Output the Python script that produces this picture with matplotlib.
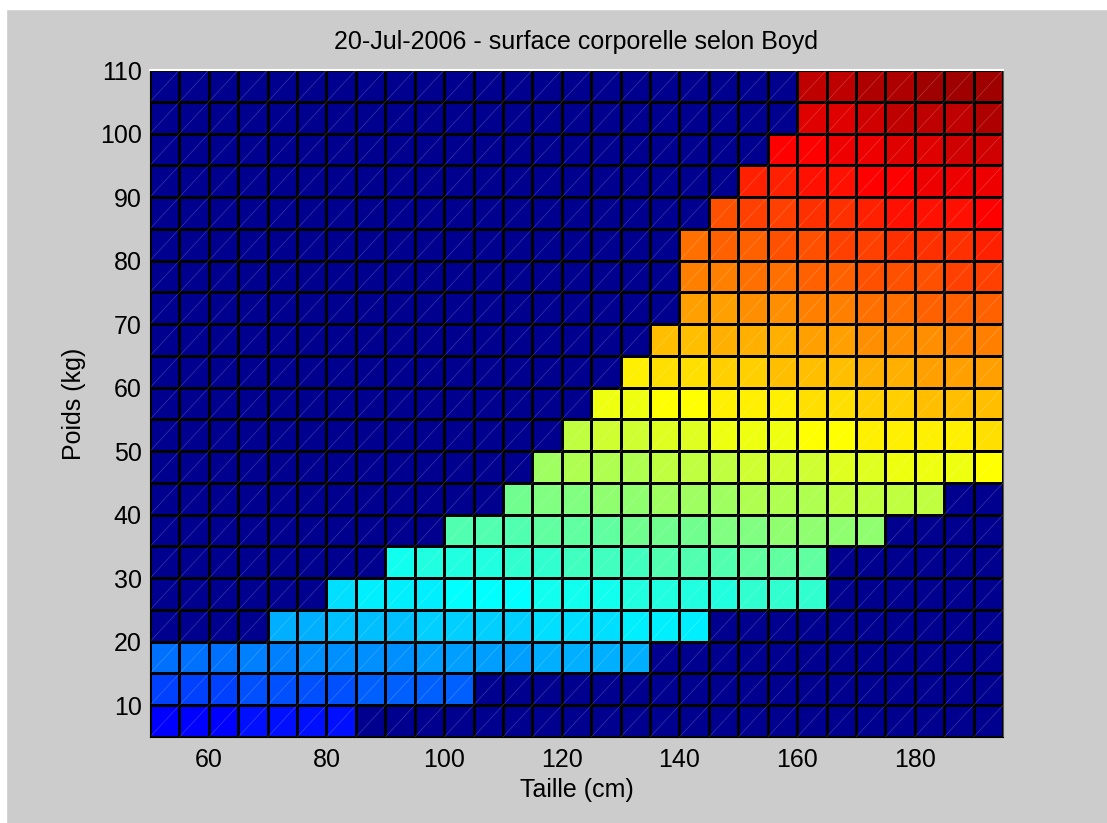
import numpy as np
import matplotlib
matplotlib.use("Agg")
import matplotlib.pyplot as plt
from matplotlib.colors import ListedColormap
from matplotlib.collections import LineCollection
from matplotlib.patches import Rectangle

# --- data ---
# cell edges (cm / kg)
taille = [50, 55, 60, 65, 70, 75, 80, 85, 90, 95, 100, 105, 110, 115, 120, 125, 130,
          135, 140, 145, 150, 155, 160, 165, 170, 175, 180, 185, 190, 195]
poids = [5, 10, 15, 20, 25, 30, 35, 40, 45, 50, 55, 60, 65, 70, 75, 80, 85, 90, 95,
         100, 105, 110]

# surface corporelle (m2), one row per weight band, 0 = outside the plausible zone
bsa_w5 = [0.28, 0.29, 0.30, 0.31, 0.31, 0.32, 0.33, 0, 0, 0, 0, 0, 0, 0, 0, 0, 0, 0, 0, 0, 0, 0, 0, 0, 0, 0, 0, 0, 0]
bsa_w10 = [0.43, 0.44, 0.45, 0.46, 0.47, 0.48, 0.49, 0.50, 0.51, 0.52, 0.52, 0, 0, 0, 0, 0, 0, 0, 0, 0, 0, 0, 0, 0, 0, 0, 0, 0, 0]
bsa_w15 = [0.54, 0.55, 0.57, 0.58, 0.59, 0.61, 0.62, 0.63, 0.64, 0.65, 0.66, 0.67, 0.68, 0.69, 0.70, 0.71, 0.72, 0, 0, 0, 0, 0, 0, 0, 0, 0, 0, 0, 0]
bsa_w20 = [0, 0, 0, 0, 0.70, 0.71, 0.73, 0.74, 0.75, 0.77, 0.78, 0.79, 0.80, 0.81, 0.82, 0.83, 0.84, 0.85, 0.86, 0, 0, 0, 0, 0, 0, 0, 0, 0, 0]
bsa_w25 = [0, 0, 0, 0, 0, 0, 0.83, 0.84, 0.86, 0.87, 0.88, 0.90, 0.91, 0.92, 0.93, 0.94, 0.96, 0.97, 0.98, 0.99, 1.00, 1.01, 1.02, 0, 0, 0, 0, 0, 0]
bsa_w30 = [0, 0, 0, 0, 0, 0, 0, 0, 0.95, 0.96, 0.98, 0.99, 1.01, 1.02, 1.03, 1.05, 1.06, 1.07, 1.08, 1.09, 1.11, 1.12, 1.13, 0, 0, 0, 0, 0, 0]
bsa_w35 = [0, 0, 0, 0, 0, 0, 0, 0, 0, 0, 1.07, 1.08, 1.10, 1.11, 1.13, 1.14, 1.15, 1.17, 1.18, 1.19, 1.21, 1.22, 1.23, 1.24, 1.25, 0, 0, 0, 0]
bsa_w40 = [0, 0, 0, 0, 0, 0, 0, 0, 0, 0, 0, 0, 1.18, 1.20, 1.21, 1.23, 1.24, 1.26, 1.27, 1.29, 1.30, 1.31, 1.32, 1.34, 1.35, 1.36, 1.37, 0, 0]
bsa_w45 = [0, 0, 0, 0, 0, 0, 0, 0, 0, 0, 0, 0, 0, 1.28, 1.30, 1.31, 1.33, 1.34, 1.36, 1.37, 1.39, 1.40, 1.41, 1.43, 1.44, 1.45, 1.46, 1.48, 1.49]
bsa_w50 = [0, 0, 0, 0, 0, 0, 0, 0, 0, 0, 0, 0, 0, 0, 1.37, 1.39, 1.41, 1.42, 1.44, 1.45, 1.47, 1.48, 1.50, 1.51, 1.53, 1.54, 1.55, 1.56, 1.58]
bsa_w55 = [0, 0, 0, 0, 0, 0, 0, 0, 0, 0, 0, 0, 0, 0, 0, 1.47, 1.48, 1.50, 1.52, 1.53, 1.55, 1.56, 1.58, 1.59, 1.61, 1.62, 1.64, 1.65, 1.66]
bsa_w60 = [0, 0, 0, 0, 0, 0, 0, 0, 0, 0, 0, 0, 0, 0, 0, 0, 1.56, 1.57, 1.59, 1.61, 1.62, 1.64, 1.66, 1.67, 1.69, 1.70, 1.72, 1.73, 1.74]
bsa_w65 = [0, 0, 0, 0, 0, 0, 0, 0, 0, 0, 0, 0, 0, 0, 0, 0, 0, 1.64, 1.66, 1.68, 1.70, 1.71, 1.73, 1.75, 1.76, 1.78, 1.79, 1.81, 1.82]
bsa_w70 = [0, 0, 0, 0, 0, 0, 0, 0, 0, 0, 0, 0, 0, 0, 0, 0, 0, 0, 1.73, 1.75, 1.77, 1.78, 1.80, 1.82, 1.83, 1.85, 1.87, 1.88, 1.90]
bsa_w75 = [0, 0, 0, 0, 0, 0, 0, 0, 0, 0, 0, 0, 0, 0, 0, 0, 0, 0, 1.80, 1.82, 1.83, 1.85, 1.87, 1.89, 1.91, 1.92, 1.94, 1.95, 1.97]
bsa_w80 = [0, 0, 0, 0, 0, 0, 0, 0, 0, 0, 0, 0, 0, 0, 0, 0, 0, 0, 1.86, 1.88, 1.90, 1.92, 1.94, 1.96, 1.97, 1.99, 2.01, 2.02, 2.04]
bsa_w85 = [0, 0, 0, 0, 0, 0, 0, 0, 0, 0, 0, 0, 0, 0, 0, 0, 0, 0, 0, 1.94, 1.96, 1.98, 2.00, 2.02, 2.04, 2.06, 2.07, 2.09, 2.11]
bsa_w90 = [0, 0, 0, 0, 0, 0, 0, 0, 0, 0, 0, 0, 0, 0, 0, 0, 0, 0, 0, 0, 2.03, 2.05, 2.07, 2.08, 2.10, 2.12, 2.14, 2.16, 2.17]
bsa_w95 = [0, 0, 0, 0, 0, 0, 0, 0, 0, 0, 0, 0, 0, 0, 0, 0, 0, 0, 0, 0, 0, 2.11, 2.13, 2.15, 2.17, 2.19, 2.20, 2.22, 2.24]
bsa_w100 = [0, 0, 0, 0, 0, 0, 0, 0, 0, 0, 0, 0, 0, 0, 0, 0, 0, 0, 0, 0, 0, 0, 2.19, 2.21, 2.23, 2.25, 2.27, 2.28, 2.30]
bsa_w105 = [0, 0, 0, 0, 0, 0, 0, 0, 0, 0, 0, 0, 0, 0, 0, 0, 0, 0, 0, 0, 0, 0, 2.25, 2.27, 2.29, 2.31, 2.33, 2.35, 2.36]

bsa_max = 2.44  # top colour limit (hidden corner value)

x_ticks = [60, 80, 100, 120, 140, 160, 180]
y_ticks = [10, 20, 30, 40, 50, 60, 70, 80, 90, 100, 110]

# --- matlab style jet(64) ---
n = 16
u = np.concatenate([np.arange(1, n + 1) / n, np.ones(n - 1), np.arange(n, 0, -1) / n])
g = 8 + np.arange(1, len(u) + 1)
jet = np.zeros((64, 3))
for ch, idx in enumerate([g + n, g, g - n]):
    ok = (idx >= 1) & (idx <= 64)
    jet[idx[ok] - 1, ch] = u[ok]
cmap = ListedColormap(jet)

C = np.array([bsa_w5, bsa_w10, bsa_w15, bsa_w20, bsa_w25, bsa_w30, bsa_w35, bsa_w40,
              bsa_w45, bsa_w50, bsa_w55, bsa_w60, bsa_w65, bsa_w70, bsa_w75, bsa_w80,
              bsa_w85, bsa_w90, bsa_w95, bsa_w100, bsa_w105])

plt.rcParams['font.family'] = ['Liberation Sans', 'DejaVu Sans']

fig = plt.figure(figsize=(11.07, 8.23), dpi=100, facecolor='#cccccc')
ax = fig.add_axes([150 / 1107, 86 / 823, 853 / 1107, 667 / 823])

ax.pcolormesh(taille, poids, C, cmap=cmap, vmin=0, vmax=bsa_max,
              edgecolors='k', linewidth=0.75)

# faint triangle diagonals (opengl look)
segs = []
for i in range(len(poids) - 1):
    for j in range(len(taille) - 1):
        segs.append([(taille[j], poids[i]), (taille[j + 1], poids[i + 1])])
ax.add_collection(LineCollection(segs, colors='white', linewidths=0.5, alpha=0.22))

ax.set_xlim(taille[0], taille[-1])
ax.set_ylim(poids[0], poids[-1])
ax.set_xticks(x_ticks)
ax.set_yticks(y_ticks)
ax.tick_params(direction='in', length=5, labelsize=18, top=True, right=True)
ax.tick_params(axis='x', pad=8)
ax.tick_params(axis='y', pad=6)

for side in ['left', 'bottom']:
    ax.spines[side].set_color('black')
ax.spines['top'].set_color('white')
ax.spines['top'].set_linewidth(1.5)
ax.spines['right'].set_color('#555555')

ax.set_title('20-Jul-2006 - surface corporelle selon Boyd', fontsize=18, pad=15)
ax.set_xlabel('Taille (cm)', fontsize=18, labelpad=4)
ax.set_ylabel('Poids (kg)', fontsize=18, labelpad=10)

# white strips along the top and left edge of the screenshot
fig.patches.append(Rectangle((0, 1 - 9 / 823), 1, 9 / 823, transform=fig.transFigure,
                             color='white', zorder=0))
fig.patches.append(Rectangle((0, 0), 6 / 1107, 1, transform=fig.transFigure,
                             color='white', zorder=0))

fig.savefig('out.png', dpi=100, facecolor=fig.get_facecolor())
